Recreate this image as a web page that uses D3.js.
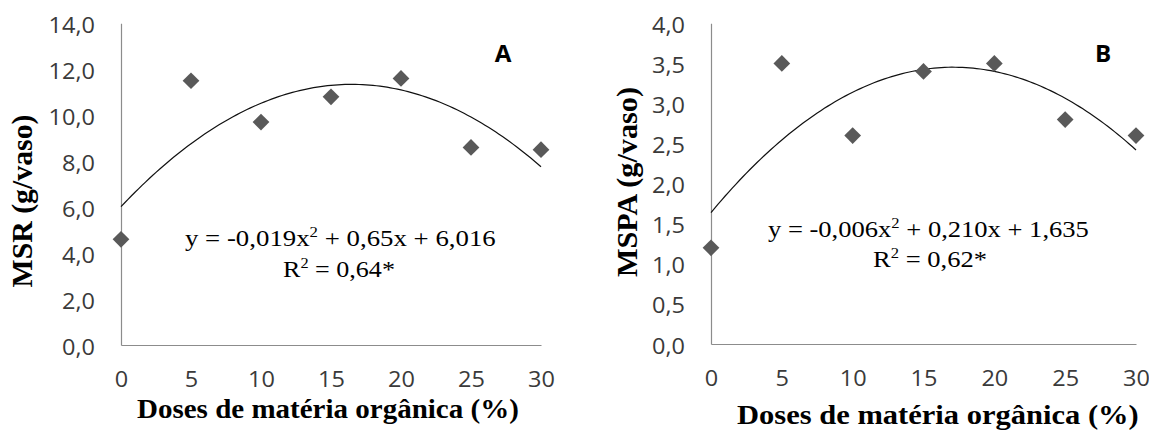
<!DOCTYPE html>
<html>
<head>
<meta charset="utf-8">
<script src="https://cdn.jsdelivr.net/npm/d3@7"></script>
<style>
  html, body { margin: 0; padding: 0; background: #fff; }
  svg { display: block; }
  .tick text { font-family: "Open Sans", "Liberation Sans", sans-serif; font-size: 21px; fill: #3a3a3a; }
  .serif { font-family: "Liberation Serif", "Times New Roman", serif; white-space: pre; fill: #000; }
</style>
</head>
<body>
<div id="chart"></div>
<script>
// doses de materia organica (%)
const doses = [0, 5, 10, 15, 20, 25, 30];
// MSR (g/vaso) - painel A
const msr = [4.6, 11.5, 9.7, 10.8, 11.6, 8.6, 8.5];
// MSPA (g/vaso) - painel B
const mspa = [1.2, 3.5, 2.6, 3.4, 3.5, 2.8, 2.6];

const trendMsr = [6.02, 0.646, -0.0196];
const trendMspa = [1.64, 0.212, -0.0062];

const xTicks = [0, 5, 10, 15, 20, 25, 30];
const yTicksMsr = [0, 2, 4, 6, 8, 10, 12, 14];
const yTicksMspa = [0, 0.5, 1, 1.5, 2, 2.5, 3, 3.5, 4];

const eqMsr = ['y = -0,019x', '2', ' + 0,65x + 6,016'];
const r2Msr = ['R', '2', ' = 0,64*'];
const eqMspa = ['y = -0,006x', '2', ' + 0,210x + 1,635'];
const r2Mspa = ['R', '2', ' = 0,62*'];

const W = 1149, H = 430;
const sansX = 1.12; // texto do original esta esticado na horizontal

const svg = d3.select('#chart').append('svg')
  .attr('width', W)
  .attr('height', H);

const comma = v => d3.format('.1f')(v).replace('.', ',');

// escreve texto a partir de x0 ate x1 (estica para caber)
function fitText(sel, x0, x1, base) {
  const w = sel.node().getBBox().width;
  sel.attr('transform', 'translate(' + x0 + ',' + base + ') scale(' + ((x1 - x0) / w) + ',1)');
}

function equation(g, parts, x0, x1, base) {
  const t = g.append('text').attr('class', 'serif').style('font-size', '24px');
  t.append('tspan').text(parts[0]);
  t.append('tspan').text(parts[1]).style('font-size', '15px').attr('dy', -9);
  t.append('tspan').text(parts[2]).attr('dy', 9);
  fitText(t, x0, x1, base);
}

function panel(cfg) {
  const g = svg.append('g');

  const x = d3.scaleLinear().domain([0, 30]).range([cfg.left, cfg.right]);
  const y = d3.scaleLinear().domain([0, cfg.yMax]).range([cfg.bottom, cfg.top]);

  /* eixo y */
  const yAxis = g.append('g')
    .attr('transform', 'translate(' + cfg.left + ',0)')
    .call(d3.axisLeft(y).tickValues(cfg.yTicks).tickFormat(comma).tickSize(0));
  yAxis.select('.domain').attr('stroke', '#8c8c8c').attr('stroke-width', 1.2);
  yAxis.selectAll('.tick text')
    .attr('x', 0).attr('dy', '0.36em')
    .attr('transform', 'translate(-26,1.5) scale(' + sansX + ',1)');

  /* eixo x */
  const xAxis = g.append('g')
    .attr('transform', 'translate(0,' + cfg.bottom + ')')
    .call(d3.axisBottom(x).tickValues(xTicks).tickFormat(d3.format('d')).tickSize(0));
  xAxis.select('.domain').attr('stroke', '#8c8c8c').attr('stroke-width', 1.2);
  xAxis.selectAll('.tick text')
    .attr('y', 0).attr('dy', '0.36em')
    .attr('transform', 'translate(0,' + cfg.xLabelDy + ') scale(' + sansX + ',1)');

  /* curva ajustada */
  const k = cfg.trend;
  const pts = d3.range(0, 30.001, 0.25).map(d => [d, k[0] + k[1] * d + k[2] * d * d]);
  g.append('path')
    .datum(pts)
    .attr('fill', 'none')
    .attr('stroke', '#111')
    .attr('stroke-width', 1.2)
    .attr('d', d3.line().x(d => x(d[0])).y(d => y(d[1])));

  /* pontos */
  g.selectAll('path.pt')
    .data(doses.map((d, i) => [d, cfg.values[i]]))
    .join('path')
    .attr('class', 'pt')
    .attr('fill', '#595959')
    .attr('d', d3.symbol(d3.symbolSquare, 140))
    .attr('transform', d => 'translate(' + x(d[0]) + ',' + y(d[1]) + ') rotate(45)');

  /* titulos */
  const xt = g.append('text').attr('class', 'serif')
    .style('font-size', '28px').style('font-weight', 'bold')
    .text('Doses de matéria orgânica (%)');
  fitText(xt, cfg.xTitle[0], cfg.xTitle[1], cfg.xTitle[2]);

  const yt = g.append('text').attr('class', 'serif')
    .style('font-size', '29px').style('font-weight', 'bold')
    .attr('text-anchor', 'middle')
    .text(cfg.yLabel);
  const yw = yt.node().getBBox().width;
  yt.attr('transform', 'translate(' + cfg.yTitle[0] + ',' + cfg.yTitle[1] + ') rotate(-90) scale(' + (cfg.yTitle[2] / yw) + ',1)');

  equation(g, cfg.eq, cfg.eqPos[0], cfg.eqPos[1], cfg.eqPos[2]);
  equation(g, cfg.r2, cfg.r2Pos[0], cfg.r2Pos[1], cfg.r2Pos[2]);

  g.append('text')
    .attr('text-anchor', 'middle')
    .attr('transform', 'translate(' + cfg.letter[0] + ',' + cfg.letter[1] + ') scale(1.05,1)')
    .style('font-family', '"Open Sans", "Liberation Sans", sans-serif')
    .style('font-size', '23px')
    .style('font-weight', 'bold')
    .attr('fill', '#000')
    .text(cfg.name);
}

panel({
  name: 'A', values: msr, trend: trendMsr, yMax: 14, yTicks: yTicksMsr,
  yLabel: 'MSR (g/vaso)', eq: eqMsr, r2: r2Msr,
  left: 121, right: 541, top: 23.3, bottom: 345, xLabelDy: 34,
  xTitle: [137, 519, 418], yTitle: [32, 201, 173],
  eqPos: [185, 496, 246], r2Pos: [283, 395, 277], letter: [503, 62]
});

panel({
  name: 'B', values: mspa, trend: trendMspa, yMax: 4, yTicks: yTicksMspa,
  yLabel: 'MSPA (g/vaso)', eq: eqMspa, r2: r2Mspa,
  left: 711, right: 1136, top: 23.3, bottom: 344, xLabelDy: 34,
  xTitle: [737, 1139, 424], yTitle: [637, 182, 190],
  eqPos: [768, 1089, 237], r2Pos: [873, 987, 267], letter: [1103, 62]
});
</script>
</body>
</html>
